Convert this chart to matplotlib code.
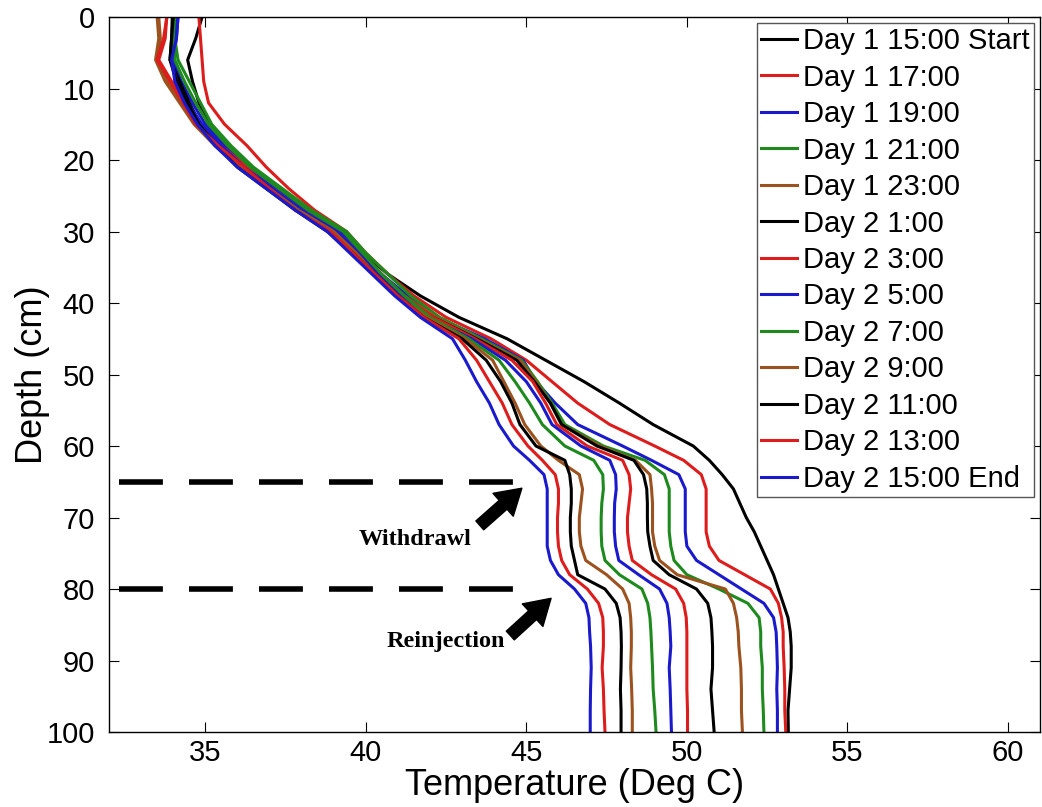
import matplotlib
matplotlib.use("Agg")
import matplotlib.pyplot as plt

plt.rcParams['font.family'] = ['Liberation Sans', 'DejaVu Sans']

# depth grid (cm) shared by all profiles
depth = [0, 3, 6, 9, 12, 15, 18, 21, 24, 27, 30, 33, 36, 39, 42,
         45, 48, 51, 54, 57, 60,
         62, 64, 66, 68, 70, 72, 74, 76, 78, 80, 82, 84, 86, 88,
         91, 94, 97, 100]

# temperature profiles (deg C)
t_d1_1500 = [34.9, 34.7, 34.45, 34.6, 34.8, 35.1, 35.6, 36.3, 37.3, 38.3, 39.3, 39.9, 40.7, 41.7, 42.9,
             44.4, 45.6, 46.8, 47.9, 48.95, 50.2,
             50.7, 51.1, 51.45, 51.65, 51.85, 52.1, 52.3, 52.5, 52.7, 52.85, 53.0, 53.15, 53.22, 53.25,
             53.25, 53.2, 53.15, 53.16]
t_d1_1700 = [34.8, 34.85, 34.9, 34.95, 35.1, 35.6, 36.3, 36.9, 37.6, 38.4, 39.4, 40.0, 40.7, 41.5, 42.5,
             43.9, 45.0, 45.8, 46.6, 47.6, 49.0,
             49.9, 50.45, 50.6, 50.6, 50.6, 50.6, 50.7, 51.0, 51.8, 52.6, 52.85, 52.95, 53.0, 53.0,
             53.03, 53.05, 53.05, 53.08]
t_d1_1900 = [34.15, 34.1, 34.0, 34.25, 34.6, 35.0, 35.6, 36.3, 37.2, 38.1, 39.2, 39.8, 40.5, 41.3, 42.2,
             43.7, 44.9, 45.3, 45.9, 46.6, 48.0,
             48.9, 49.75, 49.95, 49.95, 49.95, 49.95, 50.0, 50.3, 51.0, 51.7, 52.4, 52.7, 52.78, 52.8,
             52.82, 52.8, 52.82, 52.82]
t_d1_2100 = [34.05, 34.05, 34.15, 34.5, 34.85, 35.2, 35.8, 36.5, 37.4, 38.3, 39.4, 40.0, 40.7, 41.4, 42.3,
             43.6, 44.85, 45.35, 45.8, 46.2, 47.4,
             48.7, 49.3, 49.45, 49.45, 49.45, 49.45, 49.5, 49.6, 50.0, 51.0, 51.9, 52.25, 52.3, 52.3,
             52.35, 52.35, 52.38, 52.4]
t_d1_2300 = [33.55, 33.6, 33.5, 33.8, 34.3, 34.7, 35.4, 36.2, 37.1, 38.0, 39.1, 39.8, 40.5, 41.2, 42.2,
             43.5, 44.8, 45.3, 45.75, 46.1, 47.3,
             48.4, 48.85, 48.9, 48.93, 48.93, 48.93, 49.0, 49.15, 49.7, 51.2, 51.45, 51.55, 51.6, 51.62,
             51.68, 51.7, 51.7, 51.73]
t_d2_0100 = [33.97, 33.95, 33.9, 34.2, 34.5, 34.85, 35.4, 36.1, 37.0, 37.9, 38.9, 39.7, 40.4, 41.1, 42.1,
             43.45, 44.7, 45.25, 45.75, 46.1, 47.2,
             48.35, 48.65, 48.75, 48.77, 48.77, 48.78, 48.85, 48.95, 49.45, 50.3, 50.65, 50.75, 50.78, 50.8,
             50.8, 50.75, 50.8, 50.85]
t_d2_0300 = [33.8, 33.75, 33.55, 33.95, 34.4, 34.8, 35.5, 36.3, 37.0, 37.8, 39.0, 39.7, 40.4, 41.2, 42.1,
             43.4, 44.55, 45.2, 45.6, 45.95, 46.9,
             48.0, 48.2, 48.25, 48.2, 48.15, 48.15, 48.2, 48.3, 48.9, 49.65, 49.9, 49.98, 50.0, 50.0,
             50.0, 50.0, 50.02, 50.02]
t_d2_0500 = [34.1, 34.05, 33.95, 34.1, 34.45, 34.9, 35.5, 36.2, 37.1, 38.0, 39.1, 39.8, 40.4, 41.1, 41.9,
             43.3, 44.35, 45.0, 45.45, 45.8, 46.7,
             47.6, 47.78, 47.8, 47.75, 47.74, 47.74, 47.78, 47.88, 48.5, 49.15, 49.38, 49.45, 49.48, 49.5,
             49.45, 49.48, 49.5, 49.52]
t_d2_0700 = [34.05, 34.0, 34.05, 34.35, 34.7, 35.1, 35.7, 36.4, 37.3, 38.2, 39.3, 39.9, 40.5, 41.2, 42.0,
             43.2, 44.15, 44.65, 45.1, 45.5, 46.2,
             47.1, 47.38, 47.4, 47.35, 47.33, 47.33, 47.35, 47.45, 47.9, 48.6, 48.78, 48.85, 48.88, 48.9,
             48.93, 48.95, 49.0, 49.04]
t_d2_0900 = [33.5, 33.55, 33.45, 33.75, 34.2, 34.65, 35.3, 36.1, 37.0, 37.9, 39.0, 39.7, 40.3, 41.0, 41.9,
             43.1, 43.95, 44.3, 44.65, 44.95, 45.45,
             46.0, 46.65, 46.75, 46.7, 46.65, 46.65, 46.7, 46.85, 47.5, 48.0, 48.2, 48.25, 48.27, 48.27,
             48.25, 48.28, 48.3, 48.3]
t_d2_1100 = [34.0, 33.95, 33.9, 34.1, 34.45, 34.8, 35.35, 36.0, 36.9, 37.8, 38.8, 39.6, 40.3, 41.0, 41.8,
             43.0, 43.75, 44.2, 44.55, 44.8, 45.3,
             46.2, 46.35, 46.4, 46.4, 46.37, 46.37, 46.4, 46.5, 46.6, 47.45, 47.8, 47.92, 47.95, 47.96,
             47.95, 47.93, 47.95, 47.95]
t_d2_1300 = [33.8, 33.7, 33.5, 33.9, 34.3, 34.7, 35.4, 36.2, 37.0, 37.8, 38.9, 39.6, 40.3, 41.0, 41.8,
             42.9, 43.45, 43.85, 44.25, 44.55, 45.05,
             45.5, 45.9, 46.0, 46.0, 45.97, 45.97, 46.0, 46.1, 46.35, 46.9, 47.25, 47.38, 47.4, 47.4,
             47.36, 47.4, 47.42, 47.45]
t_d2_1500 = [34.15, 34.1, 33.95, 34.05, 34.35, 34.75, 35.3, 36.0, 36.9, 37.8, 38.8, 39.5, 40.2, 40.9, 41.7,
             42.7, 43.1, 43.45, 43.85, 44.15, 44.6,
             45.1, 45.55, 45.65, 45.65, 45.65, 45.65, 45.65, 45.75, 46.0, 46.5, 46.85, 46.95, 46.97, 47.0,
             47.02, 47.0, 46.99, 46.99]

profiles = [t_d1_1500, t_d1_1700, t_d1_1900, t_d1_2100, t_d1_2300,
            t_d2_0100, t_d2_0300, t_d2_0500, t_d2_0700, t_d2_0900,
            t_d2_1100, t_d2_1300, t_d2_1500]
labels = ["Day 1 15:00 Start", "Day 1 17:00", "Day 1 19:00", "Day 1 21:00",
          "Day 1 23:00", "Day 2 1:00", "Day 2 3:00", "Day 2 5:00", "Day 2 7:00",
          "Day 2 9:00", "Day 2 11:00", "Day 2 13:00", "Day 2 15:00 End"]
palette = ["#000000", "#dd1c1c", "#1a1acc", "#1e8a1e", "#9c521e"]

# port levels (cm)
withdrawal_depth = 65
reinjection_depth = 80

fig = plt.figure(figsize=(10.42, 8.07), dpi=100)
ax = fig.add_axes([0.1046, 0.0929, 0.8935, 0.886])

for i, (temps, lab) in enumerate(zip(profiles, labels)):
    ax.plot(temps, depth, color=palette[i % 5], lw=2.2, label=lab,
            solid_joinstyle="round")

# dashed port lines
for d in [withdrawal_depth, reinjection_depth]:
    ax.plot([32.3, 44.7], [d, d], color="black", lw=4, dashes=(7.9, 4.7))

# arrows + annotations
arrow_style = "simple,head_length=1.8,head_width=2.2,tail_width=0.85"
ax.annotate("", xy=(44.86, 65.9), xytext=(43.55, 71.1),
            arrowprops=dict(arrowstyle=arrow_style, color="black",
                            mutation_scale=10, shrinkA=0, shrinkB=0))
ax.annotate("", xy=(45.77, 81.3), xytext=(44.5, 86.5),
            arrowprops=dict(arrowstyle=arrow_style, color="black",
                            mutation_scale=10, shrinkA=0, shrinkB=0))
ax.text(41.52, 73.1, "Withdrawl", family=["Liberation Serif"], fontweight="bold",
        fontsize=17.5, ha="center", va="center")
ax.text(42.5, 87.4, "Reinjection", family=["Liberation Serif"], fontweight="bold",
        fontsize=17.5, ha="center", va="center")

ax.set_xlim(32, 61)
ax.set_ylim(100, 0)
ax.set_xticks([35, 40, 45, 50, 55, 60])
ax.set_yticks(range(0, 101, 10))
ax.tick_params(direction="in", length=7, width=0.8, labelsize=21,
               top=True, right=True)
ax.tick_params(axis="x", pad=5)
ax.tick_params(axis="y", pad=10)
for s in ax.spines.values():
    s.set_linewidth(1.0)

ax.set_xlabel("Temperature (Deg C)", fontsize=26)
ax.set_ylabel("Depth (cm)", fontsize=26)
ax.xaxis.set_label_coords(0.5, -0.05)
ax.yaxis.set_label_coords(-0.063, 0.5)

ax.legend(loc="upper right", bbox_to_anchor=(1.0, 1.0), fontsize=21,
          handlelength=1.25, handletextpad=0.2, labelspacing=0.29,
          borderpad=0.15, borderaxespad=0.2, fancybox=False,
          edgecolor="#555555", framealpha=1)

fig.savefig("out.png", dpi=100)
